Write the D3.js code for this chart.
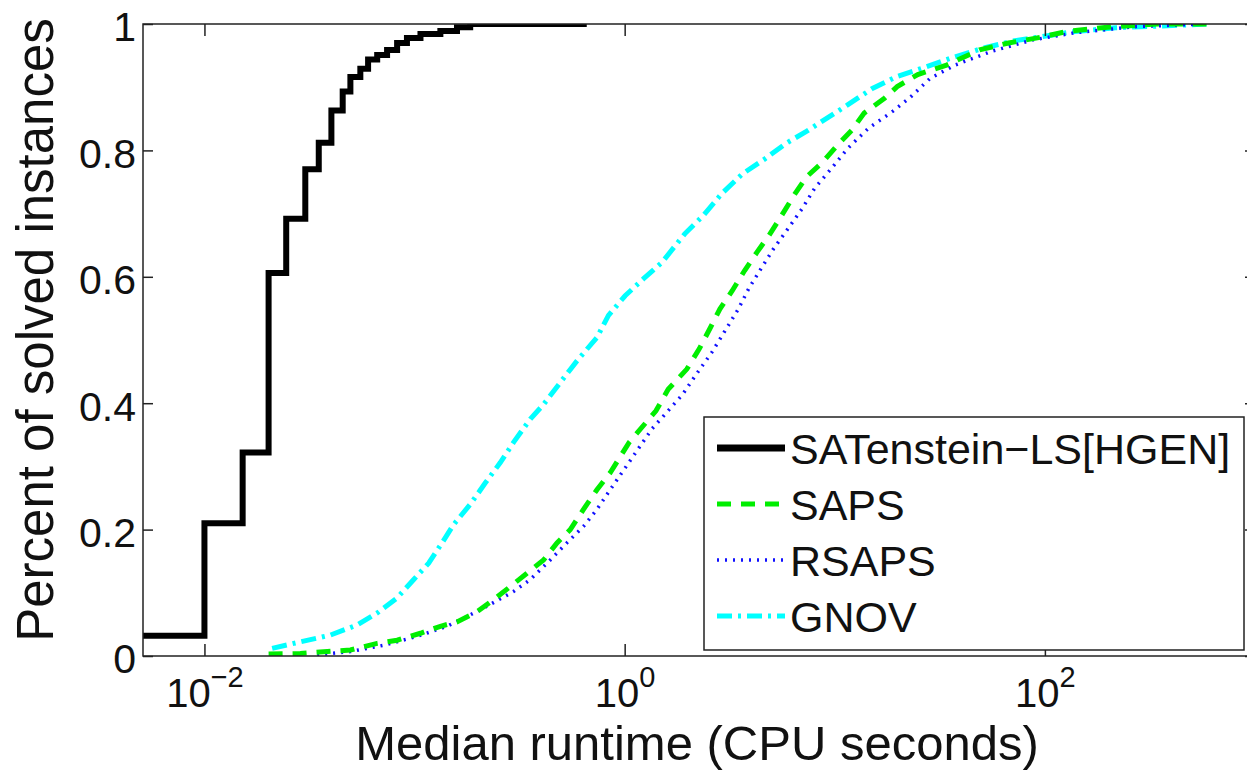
<!DOCTYPE html>
<html>
<head>
<meta charset="utf-8">
<script src="https://cdn.jsdelivr.net/npm/d3@7"></script>
<style>
  html, body { margin: 0; padding: 0; background: #fff; }
  svg { display: block; font-family: "Liberation Sans", Arial, Helvetica, sans-serif; }
</style>
</head>
<body>
<svg id="chart" width="1247" height="771"></svg>
<script>
// Median runtime (CPU seconds) vs fraction of solved instances
const satRuntime = [0.0051, 0.01, 0.0152, 0.0202, 0.0245, 0.0302, 0.035, 0.0402, 0.0455, 0.0495,
  0.0552, 0.0601, 0.0664, 0.074, 0.0826, 0.092, 0.1067, 0.1327, 0.1592, 0.184, 0.66];
const satSolved = [0.032, 0.21, 0.322, 0.606, 0.692, 0.770, 0.812, 0.863, 0.893, 0.916,
  0.929, 0.944, 0.951, 0.959, 0.970, 0.978, 0.984, 0.989, 0.995, 1.0, 1.0];

const sapsRuntime = [0.0202, 0.0286, 0.0384, 0.0495, 0.0664, 0.0826, 0.1067, 0.1327, 0.1592, 0.1982,
  0.2377, 0.2858, 0.3428, 0.4111, 0.4764, 0.5508, 0.6368, 0.7379, 0.8531, 1.050,
  1.409, 1.611, 1.977, 2.265, 2.535, 2.838, 3.251, 3.724, 4.266, 4.875,
  5.585, 6.397, 7.328, 8.790, 10.28, 12.05, 13.80, 17.30, 19.82, 24.83,
  34.04, 48.87, 67.14, 92.04, 126.5, 198.6, 341.2, 587.5];
const sapsSolved = [0.003, 0.004, 0.007, 0.0095, 0.020, 0.025, 0.036, 0.047, 0.054, 0.070,
  0.089, 0.110, 0.131, 0.152, 0.179, 0.200, 0.232, 0.263, 0.290, 0.338,
  0.388, 0.422, 0.454, 0.486, 0.517, 0.549, 0.578, 0.610, 0.639, 0.666,
  0.697, 0.729, 0.758, 0.782, 0.808, 0.832, 0.859, 0.883, 0.901, 0.920,
  0.935, 0.959, 0.970, 0.978, 0.988, 0.995, 1.0, 1.0];

const rsapsRuntime = [0.0344, 0.0495, 0.0713, 0.1028, 0.1429, 0.2056, 0.2958, 0.3556, 0.4426, 0.5309,
  0.6368, 0.7379, 0.8531, 1.346, 1.888, 2.163, 2.594, 2.972, 3.475, 3.890,
  4.457, 5.105, 5.984, 6.998, 8.017, 9.616, 11.51, 14.45, 18.92, 22.70,
  28.44, 37.33, 55.98, 88.10, 138.4, 272.3, 587.5];
const rsapsSolved = [0.002, 0.007, 0.017, 0.031, 0.047, 0.073, 0.102, 0.121, 0.152, 0.179,
  0.205, 0.232, 0.263, 0.359, 0.414, 0.443, 0.480, 0.512, 0.549, 0.581,
  0.613, 0.644, 0.676, 0.708, 0.740, 0.771, 0.803, 0.835, 0.862, 0.883,
  0.914, 0.935, 0.957, 0.975, 0.986, 0.996, 1.0];

const gnovRuntime = [0.0210, 0.0266, 0.0397, 0.0532, 0.0664, 0.0826, 0.0991, 0.1167, 0.1352, 0.1535,
  0.1841, 0.2173, 0.2559, 0.2958, 0.3556, 0.4111, 0.4943, 0.5929, 0.7379, 0.8375,
  1.005, 1.230, 1.507, 1.932, 2.366, 2.904, 3.639, 4.667, 5.848, 7.328,
  9.183, 11.51, 15.10, 19.82, 26.00, 35.65, 51.17, 70.15, 96.38, 138.4,
  217.3, 428.5, 587.5];
const gnovSolved = [0.012, 0.020, 0.033, 0.049, 0.068, 0.092, 0.121, 0.147, 0.179, 0.208,
  0.240, 0.274, 0.306, 0.338, 0.375, 0.398, 0.433, 0.467, 0.504, 0.539,
  0.570, 0.597, 0.623, 0.668, 0.697, 0.732, 0.763, 0.787, 0.811, 0.830,
  0.851, 0.872, 0.898, 0.917, 0.930, 0.946, 0.962, 0.973, 0.980, 0.988,
  0.994, 0.998, 1.0];

const seriesNames = ['SATenstein\u2212LS[HGEN]', 'SAPS', 'RSAPS', 'GNOV'];
const xTicks = [0.01, 1, 100];
const xTickExp = ['\u22122', '0', '2'];
const yTicks = [0, 0.2, 0.4, 0.6, 0.8, 1];

const series = [
  { name: seriesNames[0], xs: satRuntime, ys: satSolved, color: '#000', width: 6, dash: null, step: true },
  { name: seriesNames[1], xs: sapsRuntime, ys: sapsSolved, color: '#00ee00', width: 5, dash: '14,10' },
  { name: seriesNames[2], xs: rsapsRuntime, ys: rsapsSolved, color: '#1010ff', width: 3.5, dash: '2,6' },
  { name: seriesNames[3], xs: gnovRuntime, ys: gnovSolved, color: '#00ffff', width: 5, dash: '15,6,3,6' }
];

const svg = d3.select('#chart');
const box = { left: 143, right: 1255, top: 24, bottom: 656 };
const AX = '#222';

const x = d3.scaleLog().domain([0.0051, 1000]).range([box.left, box.right]);
const y = d3.scaleLinear().domain([0, 1]).range([box.bottom, box.top]);

svg.append('defs').append('clipPath').attr('id', 'plotClip')
  .append('rect')
  .attr('x', box.left).attr('y', box.top)
  .attr('width', box.right - box.left).attr('height', box.bottom - box.top);

// curves
const plot = svg.append('g').attr('clip-path', 'url(#plotClip)');
series.slice().reverse().forEach(s => {
  const pts = s.xs.map((v, i) => [v, s.ys[i]]);
  const line = d3.line().x(d => x(d[0])).y(d => y(d[1]))
    .curve(s.step ? d3.curveStepAfter : d3.curveLinear);
  plot.append('path')
    .attr('d', line(pts))
    .attr('fill', 'none')
    .attr('stroke', s.color)
    .attr('stroke-width', s.width)
    .attr('stroke-dasharray', s.dash)
    .attr('stroke-linejoin', 'miter');
});

// axes (box style, ticks pointing inwards)
const styleAxis = g => {
  g.select('.domain').remove();
  g.selectAll('.tick line').attr('stroke', AX).attr('stroke-width', 1.5);
};

const xb = svg.append('g').attr('transform', `translate(0,${box.bottom})`)
  .call(d3.axisBottom(x).tickValues(xTicks).tickSizeInner(-12).tickSizeOuter(0).tickFormat(''))
  .call(styleAxis);
xb.selectAll('.tick text')
  .attr('y', 51).attr('dy', 0)
  .attr('font-size', 40).attr('fill', '#111')
  .attr('font-family', '"Liberation Sans", Arial, sans-serif')
  .text(null)
  .each(function(d, i) {
    const t = d3.select(this);
    t.append('tspan').text('10');
    t.append('tspan').attr('dy', -20).attr('font-size', 29).text(xTickExp[i]);
  });

svg.append('g').attr('transform', `translate(0,${box.top})`)
  .call(d3.axisTop(x).tickValues(xTicks).tickSizeInner(-12).tickSizeOuter(0).tickFormat(''))
  .call(styleAxis);

svg.append('g').attr('transform', `translate(${box.left},0)`)
  .call(d3.axisLeft(y).tickValues(yTicks).tickSizeInner(-10).tickSizeOuter(0).tickPadding(7)
    .tickFormat(d => String(d)))
  .call(styleAxis)
  .selectAll('.tick text')
  .attr('font-size', 41).attr('fill', '#111').attr('dy', '0.41em')
  .attr('font-family', '"Liberation Sans", Arial, sans-serif');

svg.append('g').attr('transform', `translate(${box.right},0)`)
  .call(d3.axisRight(y).tickValues(yTicks).tickSizeInner(-10).tickSizeOuter(0).tickFormat(''))
  .call(styleAxis);

svg.append('rect')
  .attr('x', box.left).attr('y', box.top)
  .attr('width', box.right - box.left).attr('height', box.bottom - box.top)
  .attr('fill', 'none').attr('stroke', AX).attr('stroke-width', 1.5);

// axis titles
svg.append('text')
  .attr('x', 697).attr('y', 760)
  .attr('text-anchor', 'middle').attr('font-size', 49).attr('fill', '#111')
  .text('Median runtime (CPU seconds)');

svg.append('text')
  .attr('transform', 'translate(53,330) rotate(-90)')
  .attr('text-anchor', 'middle').attr('font-size', 51).attr('fill', '#111')
  .text('Percent of solved instances');

// legend
const lg = svg.append('g');
lg.append('rect')
  .attr('x', 704).attr('y', 417).attr('width', 540).attr('height', 233)
  .attr('fill', '#fff').attr('stroke', AX).attr('stroke-width', 1.5);

series.forEach((s, i) => {
  const base = 464 + i * 56;
  lg.append('line')
    .attr('x1', 717).attr('x2', 785)
    .attr('y1', base - 16).attr('y2', base - 16)
    .attr('stroke', s.color)
    .attr('stroke-width', s.step ? 7 : s.width)
    .attr('stroke-dasharray', s.dash);
  lg.append('text')
    .attr('x', 790).attr('y', base)
    .attr('font-size', 43).attr('fill', '#111')
    .text(s.name);
});
</script>
</body>
</html>
